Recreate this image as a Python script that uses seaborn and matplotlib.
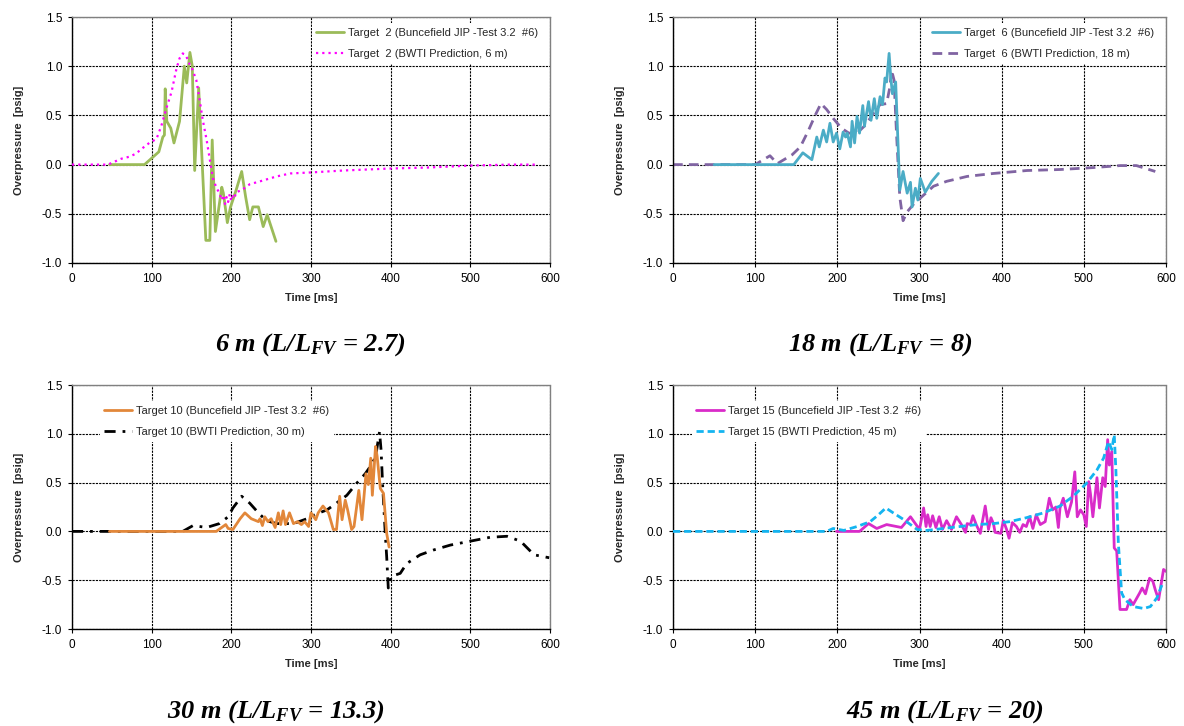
import numpy as np
import pandas as pd
import matplotlib
matplotlib.use("Agg")
import matplotlib.pyplot as plt
import seaborn as sns

# ---------------- data ----------------
# Panel 1: 6 m
t2_meas_t = [47, 91, 109, 114, 116, 117, 119, 124, 128, 135, 141, 144, 148, 151, 154, 159, 168, 173,
             176, 180, 188, 190, 195, 199, 206, 213, 218, 223, 227, 234, 240, 245, 256]
t2_meas_p = [0.0, 0.0, 0.13, 0.28, 0.30, 0.77, 0.44, 0.37, 0.22, 0.44, 1.00, 0.83, 1.14, 1.00, -0.06, 0.78,
             -0.77, -0.77, 0.25, -0.68, -0.23, -0.29, -0.59, -0.43, -0.26, -0.07, -0.33, -0.56, -0.43,
             -0.43, -0.63, -0.51, -0.78]
t2_pred_t = [0, 45, 62, 72, 80, 89, 97, 106, 112, 118, 125, 131, 135, 139, 143, 147, 151, 156, 160, 164,
             169, 173, 177, 181, 185, 188, 190, 192, 194, 196, 198, 200, 202, 204, 206, 213, 223, 236,
             257, 274, 299, 341, 399, 446, 500, 550, 582]
t2_pred_p = [0.0, 0.0, 0.06, 0.08, 0.11, 0.17, 0.22, 0.26, 0.39, 0.56, 0.74, 0.97, 1.08, 1.13, 1.11, 1.03,
             0.97, 0.86, 0.67, 0.46, 0.25, 0.05, -0.14, -0.23, -0.29, -0.36, -0.31, -0.40, -0.33, -0.38,
             -0.30, -0.37, -0.32, -0.34, -0.28, -0.26, -0.20, -0.17, -0.12, -0.09, -0.08, -0.06, -0.04,
             -0.03, -0.01, 0.0, 0.0]

# Panel 2: 18 m
t6_meas_t = [50, 147, 158, 169, 175, 178, 183, 187, 191, 195, 199, 203, 207, 210, 212, 216, 218, 221,
             224, 227, 231, 233, 238, 241, 245, 248, 252, 255, 258, 260, 263, 265, 267, 271, 276, 280,
             285, 289, 291, 295, 298, 301, 307, 315, 323]
t6_meas_p = [0.0, 0.0, 0.12, 0.05, 0.28, 0.18, 0.35, 0.23, 0.42, 0.23, 0.32, 0.16, 0.33, 0.28, 0.32,
             0.18, 0.44, 0.22, 0.49, 0.32, 0.60, 0.39, 0.64, 0.45, 0.67, 0.47, 0.69, 0.61, 0.88, 0.84,
             1.13, 0.89, 0.72, 0.84, -0.26, -0.07, -0.29, -0.18, -0.43, -0.24, -0.36, -0.14, -0.28,
             -0.17, -0.09]
t6_pred_t = [0, 100, 110, 118, 127, 145, 155, 165, 173, 180, 187, 195, 205, 214, 224, 234, 244, 252,
             260, 264, 266, 269, 272, 276, 280, 285, 293, 305, 317, 333, 358, 390, 431, 471, 512, 544,
             564, 587]
t6_pred_p = [0.0, 0.0, 0.05, 0.09, 0.01, 0.10, 0.18, 0.35, 0.50, 0.62, 0.56, 0.47, 0.37, 0.32, 0.32,
             0.40, 0.52, 0.61, 0.62, 0.79, 0.96, 0.86, 0.32, -0.33, -0.57, -0.48, -0.40, -0.31, -0.22,
             -0.17, -0.12, -0.09, -0.06, -0.05, -0.03, -0.01, -0.01, -0.07]

# Panel 3: 30 m
t10_meas_t = [47, 181, 193, 196, 202, 211, 217, 225, 234, 236, 239, 242, 246, 250, 255, 259, 262, 265,
              268, 273, 278, 283, 288, 292, 297, 300, 306, 309, 315, 322, 328, 332, 336, 339, 343, 346,
              351, 354, 360, 364, 369, 372, 375, 377, 381, 383, 387, 391, 395, 398]
t10_meas_p = [0.0, 0.0, 0.07, 0.03, 0.02, 0.13, 0.19, 0.13, 0.10, 0.13, 0.06, 0.15, 0.10, 0.13, 0.04,
              0.19, 0.07, 0.21, 0.07, 0.19, 0.08, 0.10, 0.07, 0.10, 0.05, 0.19, 0.12, 0.19, 0.26, 0.19,
              0.02, 0.02, 0.36, 0.12, 0.32, 0.22, 0.02, 0.05, 0.42, 0.12, 0.59, 0.48, 0.75, 0.37, 0.87,
              0.77, 0.44, 0.39, -0.02, -0.16]
t10_pred_t = [0, 139, 152, 169, 185, 196, 202, 213, 223, 234, 244, 257, 278, 295, 307, 320, 332, 345,
              357, 368, 374, 381, 386, 388, 390, 393, 395, 397, 401, 412, 420, 437, 454, 475, 500, 525,
              546, 563, 580, 599]
t10_pred_p = [0.0, 0.0, 0.06, 0.04, 0.08, 0.15, 0.24, 0.36, 0.29, 0.19, 0.11, 0.08, 0.08, 0.13, 0.18,
              0.22, 0.29, 0.37, 0.49, 0.59, 0.66, 0.76, 1.02, 0.83, 0.46, 0.01, -0.26, -0.58, -0.46,
              -0.43, -0.33, -0.24, -0.19, -0.14, -0.10, -0.06, -0.05, -0.10, -0.24, -0.27]

# Panel 4: 45 m
t15_meas_t = [199, 227, 238, 248, 260, 278, 289, 300, 305, 308, 310, 313, 316, 320, 324, 328, 333, 339,
              345, 351, 356, 358, 362, 365, 369, 374, 380, 384, 387, 390, 392, 399, 402, 406, 409, 413,
              418, 422, 426, 430, 434, 438, 442, 447, 453, 458, 462, 466, 469, 471, 475, 480, 485, 489,
              492, 496, 500, 503, 506, 508, 511, 516, 519, 523, 526, 529, 531, 534, 537, 540, 544, 552,
              556, 560, 568, 571, 575, 580, 584, 587, 591, 597, 600]
t15_meas_p = [0.0, 0.0, 0.08, 0.03, 0.07, 0.04, 0.15, 0.02, 0.24, 0.05, 0.17, 0.05, 0.16, 0.04, 0.15,
              0.02, 0.11, 0.02, 0.15, 0.07, -0.01, 0.08, 0.07, 0.16, 0.07, -0.02, 0.26, 0.02, 0.14, 0.08,
              -0.01, -0.02, 0.11, 0.02, -0.07, 0.09, 0.05, -0.01, 0.07, 0.05, 0.15, 0.03, 0.17, 0.07,
              0.10, 0.34, 0.22, 0.25, 0.04, 0.24, 0.34, 0.15, 0.30, 0.61, 0.15, 0.22, 0.17, 0.05, 0.51,
              0.39, 0.15, 0.55, 0.24, 0.55, 0.46, 0.94, 0.68, 0.82, -0.17, -0.20, -0.80, -0.80, -0.70,
              -0.75, -0.63, -0.58, -0.64, -0.48, -0.51, -0.60, -0.70, -0.39, -0.41]
t15_pred_t = [0, 187, 195, 208, 224, 240, 250, 259, 268, 281, 297, 309, 329, 349, 370, 390, 410, 430,
              451, 471, 487, 503, 516, 524, 530, 534, 537, 539, 542, 546, 550, 560, 573, 581, 589, 595]
t15_pred_p = [0.0, 0.0, 0.03, 0.01, 0.05, 0.10, 0.17, 0.24, 0.19, 0.12, 0.02, 0.01, 0.03, 0.05, 0.07,
              0.08, 0.10, 0.14, 0.19, 0.26, 0.36, 0.49, 0.63, 0.75, 0.92, 0.84, 0.99, 0.63, -0.12, -0.63,
              -0.70, -0.77, -0.79, -0.77, -0.68, -0.55]

labels_meas = ["Target  2 (Buncefield JIP -Test 3.2  #6)", "Target  6 (Buncefield JIP -Test 3.2  #6)",
               "Target 10 (Buncefield JIP -Test 3.2  #6)", "Target 15 (Buncefield JIP -Test 3.2  #6)"]
labels_pred = ["Target  2 (BWTI Prediction, 6 m)", "Target  6 (BWTI Prediction, 18 m)",
               "Target 10 (BWTI Prediction, 30 m)", "Target 15 (BWTI Prediction, 45 m)"]
captions = [r"6 m (L/L$_{FV}$ = 2.7)", r"18 m (L/L$_{FV}$ = 8)",
            r"30 m (L/L$_{FV}$ = 13.3)", r"45 m (L/L$_{FV}$ = 20)"]
x_ticks = [0, 100, 200, 300, 400, 500, 600]
y_ticks = [-1.0, -0.5, 0.0, 0.5, 1.0, 1.5]

# ---------------- style ----------------
sns.set_style("white")
plt.rcParams["font.family"] = ["Liberation Sans", "DejaVu Sans"]
plt.rcParams["mathtext.fontset"] = "custom"
plt.rcParams["mathtext.rm"] = "Liberation Serif:bold:italic"
plt.rcParams["mathtext.it"] = "Liberation Serif:bold:italic"
plt.rcParams["mathtext.bf"] = "Liberation Serif:bold:italic"

fig = plt.figure(figsize=(11.84, 7.26), dpi=100)
W, H = 1184, 726

def ax_at(l, t, r, b):
    return fig.add_axes([l / W, 1 - b / H, (r - l) / W, (b - t) / H])

axes = [ax_at(72, 17, 550, 263), ax_at(673, 17, 1166, 263),
        ax_at(72, 385, 550, 629), ax_at(673, 385, 1166, 629)]

series = [
    (t2_meas_t, t2_meas_p, dict(color="#9BBB59", lw=2.0, ls="-"),
     t2_pred_t, t2_pred_p, dict(color="#FF00FF", lw=1.6, ls=(0, (1, 1.8)))),
    (t6_meas_t, t6_meas_p, dict(color="#4BACC6", lw=2.0, ls="-"),
     t6_pred_t, t6_pred_p, dict(color="#8064A2", lw=2.0, ls=(0, (3.5, 2.2)))),
    (t10_meas_t, t10_meas_p, dict(color="#E2873A", lw=2.0, ls="-"),
     t10_pred_t, t10_pred_p, dict(color="black", lw=2.0, ls=(0, (4, 2.5, 1, 2.5)))),
    (t15_meas_t, t15_meas_p, dict(color="#D92BC9", lw=2.0, ls="-"),
     t15_pred_t, t15_pred_p, dict(color="#14B4F0", lw=2.0, ls=(0, (2.6, 1.4)))),
]

leg_anchor = [("upper right", (0.985, 0.975)), ("upper right", (0.985, 0.975)),
              ("upper left", (0.058, 0.934)), ("upper left", (0.038, 0.934))]

for i, ax in enumerate(axes):
    mt, mp, mkw, pt, pp, pkw = series[i]
    df_m = pd.DataFrame({"t": mt, "p": mp})
    df_p = pd.DataFrame({"t": pt, "p": pp})
    z_pred, z_meas = (3, 2) if i in (0, 3) else (2, 3)
    sns.lineplot(data=df_p, x="t", y="p", ax=ax, estimator=None, sort=False,
                 label=labels_pred[i], zorder=z_pred, **pkw)
    sns.lineplot(data=df_m, x="t", y="p", ax=ax, estimator=None, sort=False,
                 label=labels_meas[i], zorder=z_meas, **mkw)

    ax.set_xlim(0, 600)
    ax.set_ylim(-1.0, 1.5)
    ax.set_xticks(x_ticks)
    ax.set_yticks(y_ticks)
    ax.set_yticklabels([f"{v:.1f}" for v in y_ticks])
    ax.grid(True, color="black", lw=0.8, ls=(0, (2, 1)))
    ax.set_axisbelow(True)
    ax.tick_params(axis="both", labelsize=8.5, length=3, width=0.8, direction="out",
                   colors="black", pad=4, bottom=True, left=True)
    for s in ("left", "bottom"):
        ax.spines[s].set_color("black")
        ax.spines[s].set_linewidth(1.0)
    for s in ("top", "right"):
        ax.spines[s].set_color("#808080")
        ax.spines[s].set_linestyle((0, (1, 1)))
        ax.spines[s].set_linewidth(1.0)
    ax.set_xlabel("Time [ms]", fontsize=8, fontweight="bold", labelpad=6)
    ax.set_ylabel("Overpressure  [psig]", fontsize=8, fontweight="bold", labelpad=13)

    h, l = ax.get_legend_handles_labels()
    order = [l.index(labels_meas[i]), l.index(labels_pred[i])]
    loc, anchor = leg_anchor[i]
    leg = ax.legend([h[k] for k in order], [l[k] for k in order], loc=loc,
                    bbox_to_anchor=anchor, borderaxespad=0, fontsize=8, frameon=True,
                    facecolor="white", edgecolor="none", framealpha=1, fancybox=False,
                    handlelength=2.5, handletextpad=0.4, labelspacing=1.05, borderpad=0.4)
    leg.set_zorder(5)

cap_pos = [(310, 345), (880, 345), (276, 712), (945, 712)]
for (cx, cy), c in zip(cap_pos, captions):
    fig.text(cx / W, 1 - cy / H, c, ha="center", va="center", fontsize=19, color="black",
             family="Liberation Serif", fontweight="bold", fontstyle="italic")

fig.savefig("out.png", dpi=100)
